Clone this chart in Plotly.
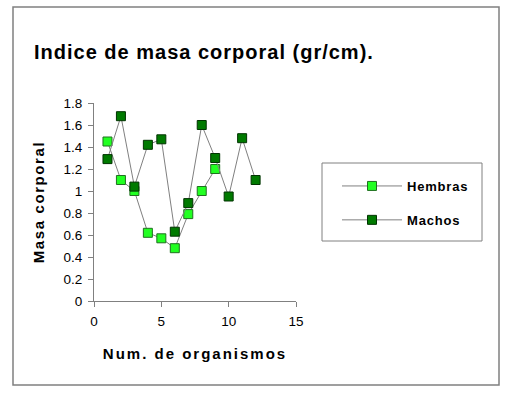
import plotly.graph_objects as go

x_hembras = [1, 2, 3, 4, 5, 6, 7, 8, 9]
hembras = [1.45, 1.10, 1.00, 0.62, 0.57, 0.48, 0.79, 1.00, 1.20]
x_machos = [1, 2, 3, 4, 5, 6, 7, 8, 9, 10, 11, 12]
machos = [1.29, 1.68, 1.04, 1.42, 1.47, 0.63, 0.89, 1.60, 1.30, 0.95, 1.48, 1.10]

FONT = "Liberation Sans, Arial, sans-serif"


def sp(text, ls):
    return f'<span style="letter-spacing:{ls}px"><b>{text}</b></span>'


fig = go.Figure()
fig.add_trace(go.Scatter(
    x=x_hembras, y=hembras, name=sp("Hembras", 0.8), mode="lines+markers",
    line=dict(color="#808080", width=1),
    marker=dict(symbol="square", size=9, color="#22FF22", line=dict(color="#207020", width=1)),
    legendgroup="h",
))
fig.add_trace(go.Scatter(
    x=x_machos, y=machos, name=sp("Machos", 0.8), mode="lines+markers",
    line=dict(color="#808080", width=1),
    marker=dict(symbol="square", size=9, color="#007A00", line=dict(color="#003300", width=1)),
    legendgroup="m",
))

W, H = 507, 397
L, R, T, B = 94, 296, 103, 301
pw, ph = R - L, B - T


def px(xp):
    return (xp - L) / pw


def py(yp):
    return (B - yp) / ph


fig.update_layout(
    width=W, height=H,
    margin=dict(l=L, r=W - R, t=T, b=H - B),
    paper_bgcolor="white", plot_bgcolor="white",
    font=dict(family=FONT, size=13, color="black"),
    title=dict(text=sp("Indice de masa corporal (gr/cm).", 1), xref="container", yref="container",
               x=34 / W, y=1 - 52 / H, xanchor="left", yanchor="middle",
               font=dict(size=20, family=FONT)),
    showlegend=True,
    legend=dict(x=px(337), y=py(171), xanchor="left", yanchor="top",
                borderwidth=0, bgcolor="rgba(0,0,0,0)",
                font=dict(size=13, family=FONT), tracegroupgap=14,
                traceorder="grouped", itemwidth=60),
    xaxis=dict(range=[0, 15], tickvals=[0, 5, 10, 15], showgrid=False, zeroline=False,
               showline=True, linecolor="#808080", linewidth=1, ticks="outside",
               tickcolor="#808080", ticklen=5, ticklabelstandoff=3,
               tickfont=dict(size=13.5),
               title=dict(text=sp("Num. de organismos", 2), font=dict(size=15), standoff=20)),
    yaxis=dict(range=[0, 1.8], dtick=0.2, showgrid=False, zeroline=False,
               showline=True, linecolor="#808080", linewidth=1, ticks="outside",
               tickcolor="#808080", ticklen=5, ticklabelstandoff=3,
               tickfont=dict(size=13.5),
               title=dict(text=sp("Masa corporal", 1.6), font=dict(size=15), standoff=15)),
    shapes=[
        dict(type="rect", xref="paper", yref="paper",
             x0=px(13), x1=px(499), y0=py(385), y1=py(7),
             line=dict(color="#808080", width=1.5), layer="below"),
        dict(type="rect", xref="paper", yref="paper",
             x0=px(322), x1=px(482), y0=py(241), y1=py(163),
             line=dict(color="#808080", width=1), layer="below"),
    ],
)

fig.update_traces(cliponaxis=False)
fig.write_html("out.html", config={"displayModeBar": False},
               post_script="document.body.style.margin='0';")
